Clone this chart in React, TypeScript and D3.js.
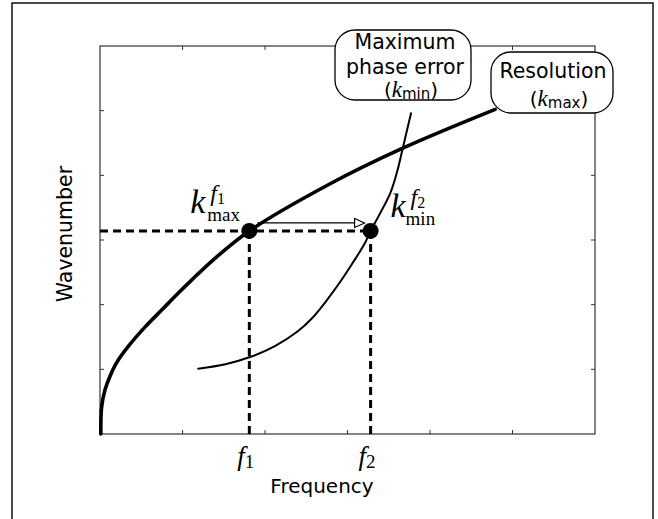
import React from "react";
import * as d3 from "d3";

const resolutionFreq = [0.01, 0.02, 0.06, 0.12, 0.2, 0.34, 0.55, 0.75, 0.95, 1.11, 1.37, 1.81, 2.79, 3.67, 4.79];
const resolutionK = [0, 0.42, 0.68, 0.89, 1.1, 1.35, 1.66, 1.92, 2.18, 2.38, 2.69, 3.14, 3.87, 4.42, 5.02];
const phaseFreq = [1.19, 1.52, 1.82, 2.12, 2.39, 2.57, 2.75, 2.91, 3.07, 3.21, 3.28, 3.39, 3.52, 3.6, 3.67, 3.77];
const phaseK = [1.01, 1.08, 1.19, 1.36, 1.58, 1.79, 2.07, 2.35, 2.66, 2.95, 3.14, 3.4, 3.73, 4.05, 4.42, 4.96];
const f1 = 1.81;
const f2 = 3.28;
const kLevel = 3.14;
const xTicks = [0, 1, 2, 3, 4, 5, 6];
const yTicks = [0, 1, 2, 3, 4, 5, 6];

const W = 658, H = 519;
const L = 100, R = 595, T = 46, B = 434;
const SANS = "'DejaVu Sans', Verdana, sans-serif";
const SERIF = "'Liberation Serif', 'Times New Roman', serif";

export default function App() {
  const x = d3.scaleLinear().domain([0, 6]).range([L, R]);
  const y = d3.scaleLinear().domain([0, 6]).range([B, T]);
  const line = d3
    .line<[number, number]>()
    .x((d) => x(d[0]))
    .y((d) => y(d[1]))
    .curve(d3.curveCatmullRom.alpha(0.5));
  const resPts = resolutionFreq.map((f, i) => [f, resolutionK[i]] as [number, number]);
  const phPts = phaseFreq.map((f, i) => [f, phaseK[i]] as [number, number]);
  const x1 = x(f1), x2 = x(f2), yk = y(kLevel);
  const ay = yk - 8;
  const inner = xTicks.slice(1, -1);
  const innerY = yTicks.slice(1, -1);

  return (
    <svg width={W} height={H} style={{ position: "absolute", left: 0, top: 0, background: "#fff" }}>
      <rect x={12} y={3} width={641} height={530} fill="none" stroke="#111" strokeWidth={1.5} />
      <rect x={L} y={T} width={R - L} height={B - T} fill="none" stroke="#333" strokeWidth={1.2} />
      {inner.map((t) => (
        <g key={"xt" + t}>
          <line x1={x(t)} x2={x(t)} y1={B} y2={B - 4} stroke="#333" strokeWidth={1} />
          <line x1={x(t)} x2={x(t)} y1={T} y2={T + 4} stroke="#333" strokeWidth={1} />
        </g>
      ))}
      {innerY.map((t) => (
        <g key={"yt" + t}>
          <line x1={L} x2={L + 4} y1={y(t)} y2={y(t)} stroke="#333" strokeWidth={1} />
          <line x1={R} x2={R - 4} y1={y(t)} y2={y(t)} stroke="#333" strokeWidth={1} />
        </g>
      ))}

      {/* dashed guides */}
      <line x1={L} x2={x2} y1={yk} y2={yk} stroke="#000" strokeWidth={3} strokeDasharray="8,5" />
      <line x1={x1} x2={x1} y1={yk} y2={B} stroke="#000" strokeWidth={3} strokeDasharray="8,5" />
      <line x1={x2} x2={x2} y1={yk} y2={B} stroke="#000" strokeWidth={3} strokeDasharray="8,5" />

      {/* curves */}
      <path d={line(resPts) || ""} fill="none" stroke="#000" strokeWidth={3.6} strokeLinecap="round" />
      <path d={line(phPts) || ""} fill="none" stroke="#000" strokeWidth={2} strokeLinecap="round" />

      {/* arrow */}
      <line x1={x1 + 8} x2={x2 - 14} y1={ay} y2={ay} stroke="#000" strokeWidth={1.2} />
      <path
        d={`M${x2 - 16},${ay - 4.5} L${x2 - 6},${ay} L${x2 - 16},${ay + 4.5} Z`}
        fill="#fff"
        stroke="#000"
        strokeWidth={1.2}
      />

      {/* dots */}
      <circle cx={x1} cy={yk} r={8} fill="#000" />
      <circle cx={x2} cy={yk} r={8} fill="#000" />

      {/* k labels */}
      <text fontFamily={SERIF}>
        <tspan x={x1 - 59} y={yk - 18} fontStyle="italic" fontSize={34}>k</tspan>
        <tspan x={x1 - 39} y={yk - 30} fontStyle="italic" fontSize={24}>f</tspan>
        <tspan dy={3} fontSize={16}>1</tspan>
        <tspan x={x1 - 42} y={yk - 10} fontSize={19}>max</tspan>
      </text>
      <text fontFamily={SERIF}>
        <tspan x={x2 + 20} y={yk - 14} fontStyle="italic" fontSize={34}>k</tspan>
        <tspan x={x2 + 40} y={yk - 26} fontStyle="italic" fontSize={24}>f</tspan>
        <tspan dy={3} fontSize={16}>2</tspan>
        <tspan x={x2 + 35} y={yk - 6} fontSize={19}>min</tspan>
      </text>

      {/* frequency tick labels */}
      <text x={x1 - 12} y={465} fontFamily={SERIF} fontSize={27}>
        <tspan fontStyle="italic">f</tspan>
        <tspan fontSize={19} dy={3}>1</tspan>
      </text>
      <text x={x2 - 12} y={465} fontFamily={SERIF} fontSize={27}>
        <tspan fontStyle="italic">f</tspan>
        <tspan fontSize={19} dy={3}>2</tspan>
      </text>

      {/* axis labels */}
      <text x={322} y={493} textAnchor="middle" fontFamily={SANS} fontSize={20}>Frequency</text>
      <text
        transform={`translate(72,234) rotate(-90)`}
        textAnchor="middle"
        fontFamily={SANS}
        fontSize={20.5}
      >
        Wavenumber
      </text>

      {/* callout boxes */}
      <rect x={335} y={30} width={136} height={70} rx={20} ry={20} fill="#fff" stroke="#000" strokeWidth={1.3} />
      <text textAnchor="middle" fontFamily={SANS} fontSize={20.5}>
        <tspan x={405} y={49}>Maximum</tspan>
        <tspan x={405} y={74}>phase error</tspan>
      </text>
      <text x={411} y={97} textAnchor="middle" fontFamily={SANS} fontSize={20}>
        <tspan>(</tspan>
        <tspan fontFamily={SERIF} fontStyle="italic" fontSize={23}>k</tspan>
        <tspan fontSize={15} dy={2}>min</tspan>
        <tspan dy={-2}>)</tspan>
      </text>

      <rect x={491} y={52} width={122} height={61} rx={20} ry={20} fill="#fff" stroke="#000" strokeWidth={1.3} />
      <text x={553} y={78} textAnchor="middle" fontFamily={SANS} fontSize={20.5}>Resolution</text>
      <text x={559} y={106} textAnchor="middle" fontFamily={SANS} fontSize={20}>
        <tspan>(</tspan>
        <tspan fontFamily={SERIF} fontStyle="italic" fontSize={23}>k</tspan>
        <tspan fontSize={15} dy={2}>max</tspan>
        <tspan dy={-2}>)</tspan>
      </text>
    </svg>
  );
}
